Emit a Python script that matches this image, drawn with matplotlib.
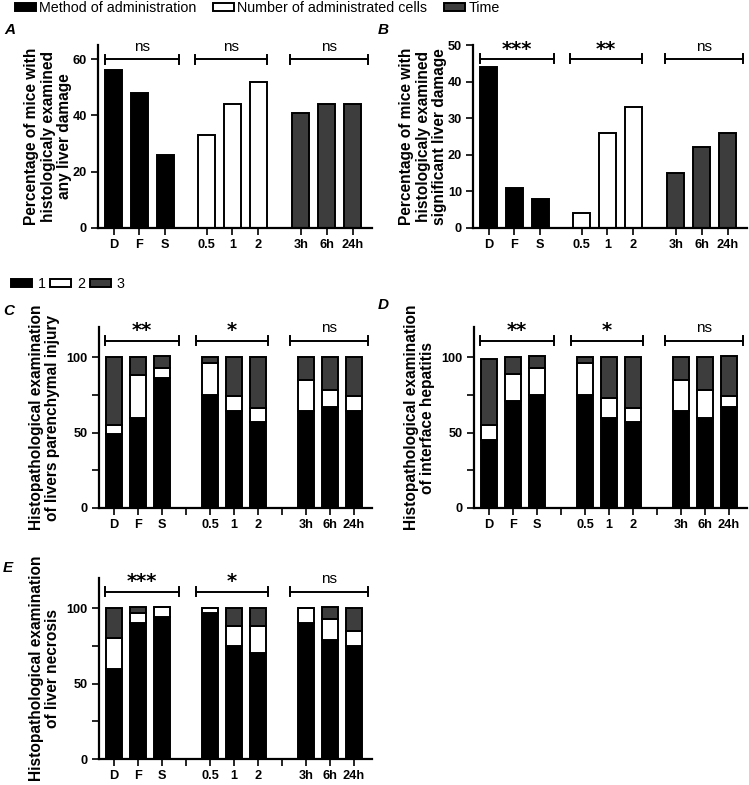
import matplotlib
matplotlib.use('Agg')
import matplotlib.pyplot as plt
from matplotlib.patches import Patch

plt.rcParams['font.family'] = ['Liberation Sans', 'DejaVu Sans']

BLACK = '#000000'
WHITE = '#ffffff'
GREY = '#3d3d3d'

labels = ['D', 'F', 'S', '0.5', '1', '2', '3h', '6h', '24h']
group_names = ['Method of administration', 'Number of administrated cells', 'Time']
score_names = ['1', '2', '3']

# panel A / B - percentage of mice with liver damage
any_damage = [56, 48, 26, 33, 44, 52, 41, 44, 44]
significant_damage = [44, 11, 8, 4, 26, 33, 15, 22, 26]
sig_A = ['ns', 'ns', 'ns']
sig_B = ['***', '**', 'ns']

# panel C - parenchymal injury, score 1 / 2 / 3
parenchymal_1 = [49, 60, 86, 75, 64, 57, 64, 67, 64]
parenchymal_2 = [6, 28, 7, 21, 10, 9, 21, 11, 10]
parenchymal_3 = [45, 12, 8, 4, 26, 34, 15, 22, 26]
sig_C = ['**', '*', 'ns']

# panel D - interface hepatitis
hepatitis_1 = [45, 71, 75, 75, 60, 57, 64, 60, 67]
hepatitis_2 = [10, 18, 18, 21, 13, 9, 21, 18, 7]
hepatitis_3 = [44, 11, 8, 4, 27, 34, 15, 22, 27]
sig_D = ['**', '*', 'ns']

# panel E - necrosis
necrosis_1 = [60, 90, 94, 97, 75, 70, 90, 79, 75]
necrosis_2 = [20, 7, 7, 3, 13, 18, 10, 14, 10]
necrosis_3 = [20, 4, 0, 0, 12, 12, 0, 8, 15]
sig_E = ['***', '*', 'ns']

bar_colors = [BLACK] * 3 + [WHITE] * 3 + [GREY] * 3
x_simple = [0, 1, 2, 3.6, 4.6, 5.6, 7.25, 8.25, 9.25]
x_stack = [0, 1, 2, 4, 5, 6, 8, 9, 10]
brackets_simple = [(-0.33, 2.53), (3.15, 5.94), (6.83, 9.85)]
brackets_stack = [(-0.37, 2.7), (3.4, 6.4), (7.33, 10.6)]

LW = 1.6
EDGE = 1.4
TICK_FS = 9.2
LABEL_FS = 11.2


def style_axes(ax):
    for s in ['top', 'right']:
        ax.spines[s].set_visible(False)
    for s in ['left', 'bottom']:
        ax.spines[s].set_linewidth(LW)
    ax.tick_params(width=1.2, length=5, pad=3, labelsize=TICK_FS)
    for lab in ax.get_xticklabels() + ax.get_yticklabels():
        lab.set_fontweight('bold')


def add_brackets(ax, spans, marks, y, ytop):
    cap = ytop * 0.0246
    for (x0, x1), m in zip(spans, marks):
        ax.plot([x0, x1], [y, y], color='black', lw=1.4, clip_on=False)
        ax.plot([x0, x0], [y - cap, y + cap], color='black', lw=1.4, clip_on=False)
        ax.plot([x1, x1], [y - cap, y + cap], color='black', lw=1.4, clip_on=False)
        if m == 'ns':
            ax.annotate(m, ((x0 + x1) / 2, y), xytext=(0, 6), textcoords='offset points',
                        ha='center', va='baseline', fontsize=11, annotation_clip=False)
        else:
            ax.annotate(m, ((x0 + x1) / 2, y), xytext=(0, 3), textcoords='offset points',
                        ha='center', va='baseline', fontsize=14, fontweight='bold',
                        family='DejaVu Sans', annotation_clip=False)


def simple_panel(ax, values, ylim, yticks, marks, bracket_y, ylabel):
    ax.bar(x_simple, values, width=0.66, color=bar_colors, edgecolor='black', linewidth=EDGE)
    ax.set_xlim(-0.6, 10.0)
    ax.set_ylim(0, ylim)
    ax.set_yticks(yticks)
    ax.set_xticks(x_simple)
    ax.set_xticklabels(labels)
    ax.set_ylabel(ylabel, fontsize=LABEL_FS, fontweight='bold', va='center', linespacing=1.1)
    ax.yaxis.set_label_coords(-0.182, 0.5)
    style_axes(ax)
    add_brackets(ax, brackets_simple, marks, bracket_y, ylim)


def stacked_panel(ax, s1, s2, s3, marks, ylabel):
    ax.bar(x_stack, s1, width=0.67, color=BLACK, edgecolor='black', linewidth=EDGE)
    b2 = s1
    ax.bar(x_stack, s2, width=0.67, bottom=b2, color=WHITE, edgecolor='black', linewidth=EDGE)
    b3 = [a + b for a, b in zip(s1, s2)]
    ax.bar(x_stack, s3, width=0.67, bottom=b3, color=GREY, edgecolor='black', linewidth=EDGE)
    ax.set_xlim(-0.62, 10.75)
    ax.set_ylim(0, 120)
    ax.set_yticks([0, 25, 50, 75, 100])
    ax.set_yticklabels(['0', '', '50', '', '100'])
    ax.set_xticks(x_stack + [3, 7])
    ax.set_xticklabels(labels + ['', ''])
    ax.set_ylabel(ylabel, fontsize=LABEL_FS, fontweight='bold', va='center', linespacing=1.1)
    ax.yaxis.set_label_coords(-0.2, 0.5)
    style_axes(ax)
    add_brackets(ax, brackets_stack, marks, 111, 120)


W, H = 749, 785
fig = plt.figure(figsize=(W / 100, H / 100), dpi=100)


def axes_px(left, right, top, bottom):
    return fig.add_axes([left / W, 1 - bottom / H, (right - left) / W, (bottom - top) / H])


axA = axes_px(98, 372, 45, 228)
axB = axes_px(473, 747, 45, 228)
axC = axes_px(99, 372, 327, 508)
axD = axes_px(474, 747, 327, 508)
axE = axes_px(99, 372, 578, 759)

simple_panel(axA, any_damage, 65, [0, 20, 40, 60], sig_A, 60,
             'Percentage of mice with\nhistologicaly examined\nany liver damage')
simple_panel(axB, significant_damage, 50, [0, 10, 20, 30, 40, 50], sig_B, 46.2,
             'Percentage of mice with\nhistologicaly examined\nsignificant liver damage')
stacked_panel(axC, parenchymal_1, parenchymal_2, parenchymal_3, sig_C,
              'Histopathological examination\nof livers parenchymal injury')
stacked_panel(axD, hepatitis_1, hepatitis_2, hepatitis_3, sig_D,
              'Histopathological examination\nof interface hepatitis')
stacked_panel(axE, necrosis_1, necrosis_2, necrosis_3, sig_E,
              'Histopathological examination\nof liver necrosis')

# panel letters
for letter, (px, py) in zip('ABCDE', [(4, 34), (378, 34), (3, 315), (378, 309), (3, 572)]):
    fig.text(px / W, 1 - py / H, letter, fontsize=11, fontweight='bold', style='italic')

group_handles = [Patch(facecolor=c, edgecolor='black', linewidth=EDGE, label=n)
                 for c, n in zip([BLACK, WHITE, GREY], group_names)]
fig.legend(handles=group_handles, loc='upper left', bbox_to_anchor=(15 / W, 1 - 1 / H),
           ncol=3, frameon=False, fontsize=10.3, handlelength=1.45, handleheight=0.5,
           handletextpad=0.25, columnspacing=1.15, borderpad=0, borderaxespad=0)

score_handles = [Patch(facecolor=c, edgecolor='black', linewidth=EDGE, label=n)
                 for c, n in zip([BLACK, WHITE, GREY], score_names)]
fig.legend(handles=score_handles, loc='upper left', bbox_to_anchor=(11 / W, 1 - 277 / H),
           ncol=3, frameon=False, fontsize=10.3, handlelength=1.45, handleheight=0.5,
           handletextpad=0.4, columnspacing=0.35, borderpad=0, borderaxespad=0)

fig.savefig('out.png', dpi=100)
